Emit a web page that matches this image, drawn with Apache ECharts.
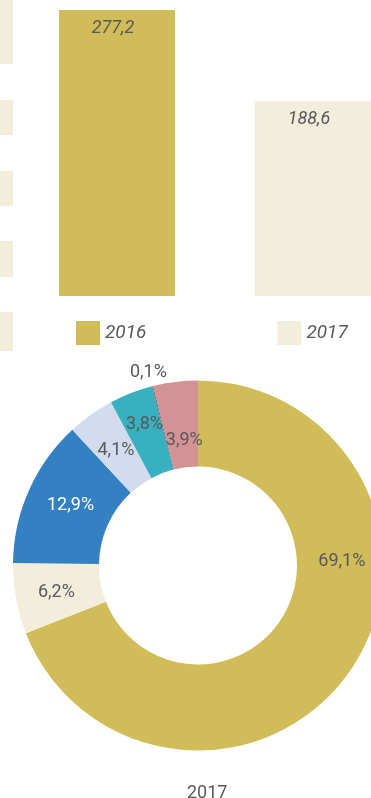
<!DOCTYPE html>
<html>
<head>
<meta charset="utf-8">
<script src="https://cdn.jsdelivr.net/npm/echarts@6/dist/echarts.min.js"></script>
<style>
  html, body { margin: 0; padding: 0; background: #ffffff; }
  #chart { width: 371px; height: 798px; }
</style>
</head>
<body>
<div id="chart"></div>
<script>
// Bar comparison by year
const barYears = ['2016', '2017'];
const barValues = [277.2, 188.6];

// Structure for 2017 (shares, %)
const pieNames = ['A', 'B', 'C', 'D', 'E', 'F', 'G'];
const pieValues = [69.1, 6.2, 12.9, 4.1, 3.8, 0.1, 3.9];
const pieTitle = '2017';

const GOLD = '#d0bc58';
const CREAM = '#f3eedb';
const TEXT = '#595959';
const FONT = 'Roboto, "Noto Sans", sans-serif';
const pieColors = [GOLD, CREAM, '#3380c2', '#d3dcee', '#38b0c0', '#6a6a6a', '#d39294'];
const pieLabelColors = [TEXT, TEXT, '#ffffff', TEXT, TEXT, TEXT, TEXT];
const pieLabelOffsets = [[24, -86], [1, 1], [5, -1], [2, 3], [-1, -6], [-14, -52], [4, 19]];

const fmt = v => v.toFixed(1).replace('.', ',');

const chart = echarts.init(document.getElementById('chart'), null, { renderer: 'canvas' });

const barSeries = barYears.map((year, i) => ({
  type: 'bar',
  name: year,
  data: [barValues[i]],
  barWidth: 116,
  barGap: '69%',
  itemStyle: { color: i === 0 ? GOLD : CREAM },
  label: {
    show: true,
    position: 'insideTop',
    distance: 9,
    offset: [-4, 0],
    formatter: p => fmt(p.value),
    color: TEXT,
    fontSize: 18,
    fontStyle: 'italic',
    fontFamily: FONT
  },
  silent: true
}));

const option = {
  animation: false,
  backgroundColor: '#ffffff',
  textStyle: { fontFamily: FONT },
  title: {
    text: pieTitle,
    left: 182,
    top: 779,
    textStyle: { color: TEXT, fontSize: 18, fontWeight: 'normal', fontFamily: FONT }
  },
  legend: {
    data: barYears,
    left: 76,
    top: 321,
    padding: 0,
    icon: 'rect',
    itemWidth: 24,
    itemHeight: 24,
    itemGap: 131,
    textStyle: { color: TEXT, fontSize: 19, fontStyle: 'italic', fontFamily: FONT },
    selectedMode: false
  },
  grid: { left: 59, top: 10, right: 0, height: 286 },
  xAxis: {
    type: 'category',
    data: [''],
    show: false
  },
  yAxis: {
    type: 'value',
    min: 0,
    max: v => v.max,
    show: false
  },
  graphic: [0, 100, 171, 241, 312].map((y, i) => ({
    type: 'rect',
    shape: { x: 0, y: y, width: 13, height: [64, 35, 35, 36, 39][i] },
    style: { fill: CREAM },
    silent: true
  })),
  series: barSeries.concat([{
    type: 'pie',
    center: [198, 565.5],
    radius: [99, 185],
    startAngle: 90,
    clockwise: true,
    avoidLabelOverlap: false,
    silent: true,
    label: {
      show: true,
      position: 'inside',
      fontSize: 18,
      fontFamily: FONT,
      formatter: p => fmt(p.value) + '%'
    },
    labelLine: { show: false },
    data: pieNames.map((n, i) => ({
      name: n,
      value: pieValues[i],
      itemStyle: { color: pieColors[i] },
      label: { color: pieLabelColors[i], offset: pieLabelOffsets[i] }
    }))
  }])
};

chart.setOption(option);
</script>
</body>
</html>
